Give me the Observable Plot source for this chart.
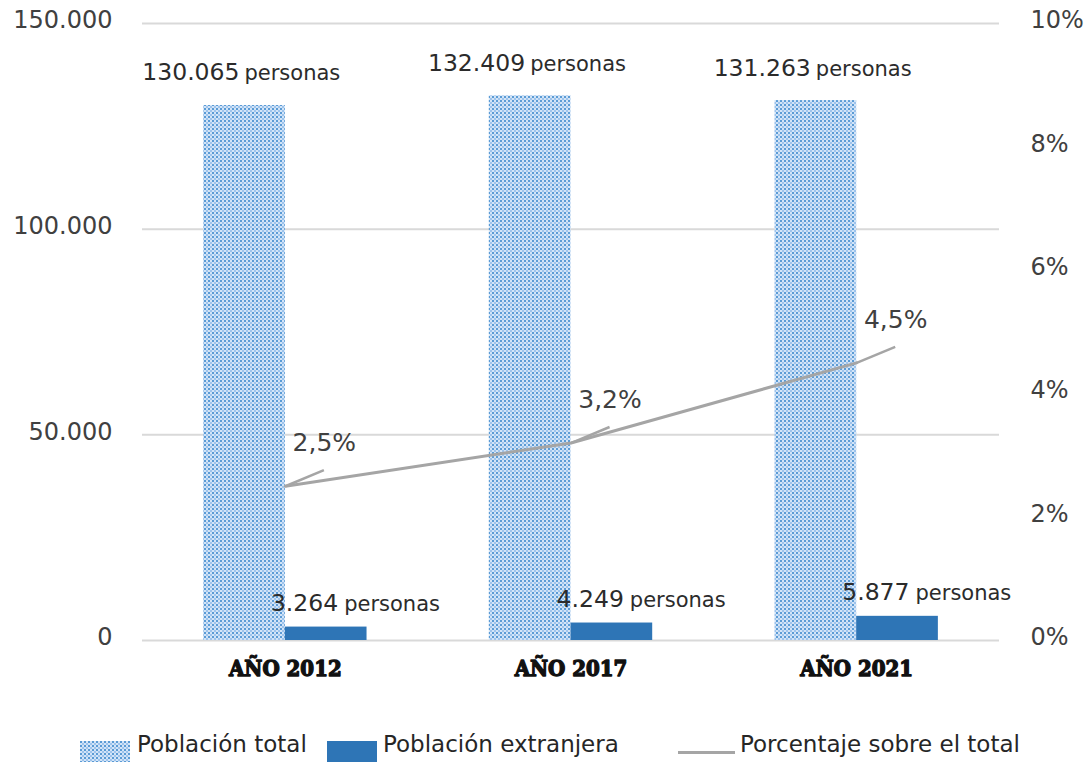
<!DOCTYPE html>
<html>
<head>
<meta charset="utf-8">
<script src="https://cdn.jsdelivr.net/npm/d3@7"></script>
<script src="https://cdn.jsdelivr.net/npm/@observablehq/plot@0.6"></script>
<style>
  body { margin: 0; background: white; }
  #wrap { position: relative; width: 1090px; height: 764px; overflow: hidden; }
  #legend { position: relative; height: 52px; font-family: "DejaVu Sans", Verdana, sans-serif; font-size: 23px; color: #262626; }
  #legend .t { position: absolute; top: 19px; line-height: 26px; white-space: nowrap; }
  #legend .s { position: absolute; }
</style>
</head>
<body>
<div id="wrap">
  <div id="chart"></div>
  <div id="legend">
    <svg class="s" style="left:80px;top:29px" width="50" height="21"><defs><pattern id="dotsL" width="4" height="4" patternUnits="userSpaceOnUse"><rect width="4" height="4" fill="#d2e4f7"/><rect x="0" y="0" width="2" height="2" fill="#5b9bd5"/><rect x="2" y="2" width="2" height="2" fill="#9dc3ec"/></pattern></defs><rect width="50" height="21" fill="url(#dotsL)"/></svg>
    <span class="t" style="left:137px">Población total</span>
    <div class="s" style="left:327px;top:29px;width:50px;height:21px;background:#2e75b6"></div>
    <span class="t" style="left:383px">Población extranjera</span>
    <div class="s" style="left:678px;top:39px;width:57px;height:3px;background:#a5a5a5"></div>
    <span class="t" style="left:740px">Porcentaje sobre el total</span>
  </div>
</div>
<script>
// ---- Data ----
const years = ["AÑO 2012", "AÑO 2017", "AÑO 2021"];
const totalPop = [130065, 132409, 131263];
const foreignPop = [3264, 4249, 5877];
const pctForeign = [2.5, 3.2, 4.5];
const totalLabels = ["130.065", "132.409", "131.263"];
const foreignLabels = ["3.264", "4.249", "5.877"];
const pctLabels = ["2,5%", "3,2%", "4,5%"];
const unitLabel = "personas";
const leftTicks = [0, 50000, 100000, 150000];
const leftTickLabels = ["0", "50.000", "100.000", "150.000"];
const rightTicks = [0, 2, 4, 6, 8, 10];
const rightTickLabels = ["0%", "2%", "4%", "6%", "8%", "10%"];

// secondary axis: 10% maps onto 150.000
const PCT = 150000 / 10;

const rows = years.map((year, i) => ({
  i, year, total: totalPop[i], foreign: foreignPop[i], pct: pctForeign[i],
  totalLabel: totalLabels[i], foreignLabel: foreignLabels[i], pctLabel: pctLabels[i]
}));
const rightRows = rightTicks.map((v, i) => ({v: v * PCT, label: rightTickLabels[i]}));
const leftRows = leftTicks.map((v, i) => ({v, label: leftTickLabels[i]}));

const font = "DejaVu Sans, Verdana, sans-serif";
const textColor = "#2b2b2b";

const plot = Plot.plot({
  width: 1090,
  height: 712,
  marginLeft: 142,
  marginRight: 91,
  marginTop: 23,
  marginBottom: 72,
  x: {domain: [0, 3], axis: null},
  y: {domain: [0, 150000], axis: null},
  style: {fontFamily: font, background: "white", overflow: "visible", color: "#404040"},
  marks: [
    Plot.ruleY(leftTicks, {stroke: "#d9d9d9", strokeWidth: 2}),
    // left axis labels
    Plot.text(leftRows, {x: () => 0, y: "v", text: "label", textAnchor: "end", dx: -30, dy: -3, fontSize: 24, fill: "#404040"}),
    // right axis labels
    Plot.text(rightRows, {x: () => 3, y: "v", text: "label", textAnchor: "start", dx: 31, dy: -3, fontSize: 24, fill: "#404040"}),
    // bars
    Plot.rectY(rows, {x1: d => d.i + 0.214, x2: d => d.i + 0.5, y: "total", fill: "url(#dots)"}),
    Plot.rectY(rows, {x1: d => d.i + 0.5, x2: d => d.i + 0.786, y: "foreign", fill: "#2e75b6"}),
    // percentage line
    Plot.line(rows, {x: d => d.i + 0.5, y: d => d.pct * PCT, stroke: "#a5a5a5", strokeWidth: 3}),
    // leader lines
    Plot.link(rows, {x1: d => d.i + 0.5, y1: d => d.pct * PCT, x2: d => d.i + 0.635, y2: d => (d.pct + 0.26) * PCT, stroke: "#a5a5a5", strokeWidth: 2.5}),
    // percentage labels
    Plot.text(rows, {x: d => d.i + 0.5, y: d => d.pct * PCT, text: "pctLabel", dx: 39, dy: -43, fontSize: 25, fill: "#404040"}),
    // total labels
    Plot.text(rows, {x: d => d.i + 0.357, y: "total", text: "totalLabel", textAnchor: "end", lineAnchor: "bottom", dx: -5, dy: -25, fontSize: 23.5, fill: textColor}),
    Plot.text(rows, {x: d => d.i + 0.357, y: "total", text: () => unitLabel, textAnchor: "start", lineAnchor: "bottom", dx: 0, dy: -25, fontSize: 21, fill: textColor}),
    // foreign labels
    Plot.text(rows, {x: d => d.i + 0.643, y: "foreign", text: "foreignLabel", textAnchor: "end", lineAnchor: "bottom", dx: 12, dy: -16, fontSize: 23.5, fill: textColor}),
    Plot.text(rows, {x: d => d.i + 0.643, y: "foreign", text: () => unitLabel, textAnchor: "start", lineAnchor: "bottom", dx: 18, dy: -16, fontSize: 21, fill: textColor}),
    // category labels
    Plot.text(rows, {x: d => d.i + 0.5, y: () => 0, text: "year", dy: 28, fontSize: 22, fontWeight: "bold", fontFamily: "DejaVu Serif Condensed, DejaVu Serif, serif", fill: "#111", stroke: "#111", strokeWidth: 1.3})
  ]
});

const defs = document.createElementNS("http://www.w3.org/2000/svg", "defs");
defs.innerHTML = '<pattern id="dots" width="4" height="4" patternUnits="userSpaceOnUse"><rect width="4" height="4" fill="#d2e4f7"/><rect x="0" y="0" width="2" height="2" fill="#5b9bd5"/><rect x="2" y="2" width="2" height="2" fill="#9dc3ec"/></pattern>';
plot.insertBefore(defs, plot.firstChild);
document.getElementById("chart").appendChild(plot);
</script>
</body>
</html>
